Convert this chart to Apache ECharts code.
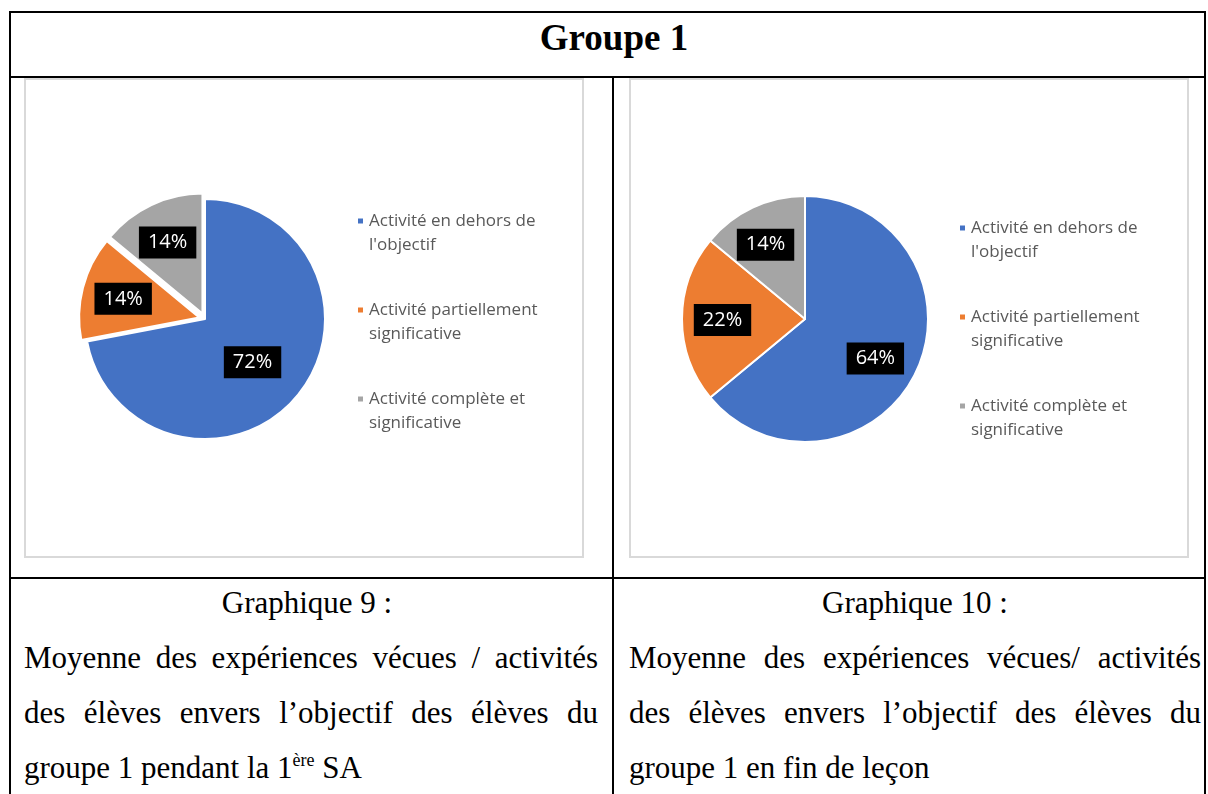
<!DOCTYPE html>
<html>
<head>
<meta charset="utf-8">
<script src="https://cdn.jsdelivr.net/npm/echarts@6/dist/echarts.min.js"></script>
<style>
  html, body { margin: 0; padding: 0; background: #fff; }
  #page { position: relative; width: 1208px; height: 794px; overflow: hidden; font-family: "Liberation Serif", "Times New Roman", serif; color: #000; }
  .ln { position: absolute; background: #000; }
  .frame { position: absolute; border: 2px solid #d9d9d9; box-sizing: border-box; }
  #title { position: absolute; left: 18px; top: 6px; width: 1192px; height: 63px; line-height: 63px; text-align: center; font-weight: bold; font-size: 37px; }
  .cap { position: absolute; top: 575px; font-size: 31px; line-height: 55px; }
  .cap div { text-align: justify; text-align-last: justify; white-space: nowrap; }
  .cap div.c { text-align: center; text-align-last: center; }
  .cap div.l { text-align: left; text-align-last: left; }
  sup { font-size: 18px; line-height: 0; vertical-align: 12px; }
  #main { position: absolute; left: 0; top: 0; width: 1208px; height: 794px; }
</style>
</head>
<body>
<div id="page">
  <div class="ln" style="left:9px;top:11px;width:1197px;height:2px"></div>
  <div class="ln" style="left:9px;top:11px;width:2px;height:783px"></div>
  <div class="ln" style="left:1204px;top:11px;width:2px;height:783px"></div>
  <div class="ln" style="left:9px;top:76px;width:1197px;height:2px"></div>
  <div class="ln" style="left:612px;top:76px;width:2px;height:718px"></div>
  <div class="ln" style="left:9px;top:577px;width:1197px;height:2px"></div>
  <div id="title">Groupe 1</div>
  <div class="frame" style="left:24px;top:78px;width:560px;height:480px"></div>
  <div class="frame" style="left:629px;top:78px;width:560px;height:480px"></div>
  <div class="cap" style="left:24px;width:574px">
    <div class="c" style="margin-right:8px">Graphique 9 :</div>
    <div>Moyenne des expériences vécues / activités</div>
    <div>des élèves envers l’objectif des élèves du</div>
    <div class="l">groupe 1 pendant la 1<sup>ère</sup> SA</div>
  </div>
  <div class="cap" style="left:629px;width:572px">
    <div class="c">Graphique 10 :</div>
    <div>Moyenne des expériences vécues/ activités</div>
    <div>des élèves envers l’objectif des élèves du</div>
    <div class="l">groupe 1 en fin de leçon</div>
  </div>
  <div id="main"></div>
</div>
<script>
var categories = ["Activité en dehors de l'objectif", 'Activité partiellement significative', 'Activité complète et significative'];
var legendLines = [["Activité en dehors de", "l'objectif"], ['Activité partiellement', 'significative'], ['Activité complète et', 'significative']];
var values9 = [72, 14, 14];
var values10 = [64, 22, 14];
var colors = ['#4472C4', '#ED7D31', '#A5A5A5'];

var labelFont = '"Open Sans", "Noto Sans", sans-serif';

function buildData(values, nudges, exploded) {
    var out = [];
    for (var i = 0; i < values.length; i++) {
        out.push({
            name: categories[i],
            value: values[i],
            selected: exploded[i],
            itemStyle: { color: colors[i] },
            label: { offset: nudges[i] },
            select: { label: { offset: nudges[i] } }
        });
    }
    return out;
}

function legendText(name) {
    var k = categories.indexOf(name);
    // blank first line so the marker sits beside the first line
    return '\n' + legendLines[k][0] + '\n' + legendLines[k][1];
}

function pieSeries(values, center, radius, nudges, exploded) {
    return {
        type: 'pie',
        center: center,
        radius: radius,
        startAngle: 90,
        clockwise: true,
        selectedMode: 'multiple',
        selectedOffset: 6,
        animation: false,
        itemStyle: { borderColor: '#fff', borderWidth: 2 },
        label: {
            position: 'inside',
            formatter: '{c}%',
            color: '#fff',
            fontFamily: labelFont,
            fontSize: 20,
            backgroundColor: '#000',
            padding: [7, 9, 5, 9]
        },
        labelLine: { show: false },
        emphasis: { disabled: true },
        select: {
            itemStyle: { borderColor: '#fff', borderWidth: 2 },
            label: { color: '#fff' }
        },
        data: buildData(values, nudges, exploded)
    };
}

function legendAt(left, top) {
    return {
        orient: 'vertical',
        left: left,
        top: top,
        padding: 0,
        itemGap: 17,
        itemWidth: 7,
        itemHeight: 7,
        icon: 'rect',
        selectedMode: false,
        formatter: legendText,
        textStyle: {
            color: '#595959',
            fontFamily: labelFont,
            fontSize: 17,
            lineHeight: 24
        },
        data: categories
    };
}

var option = {
    animation: false,
    legend: [legendAt(356, 185), legendAt(958, 192)],
    series: [
        pieSeries(values9, [205, 319], 120, [[-1, 3], [-15, -3], [-8, -14]], [false, true, true]),
        pieSeries(values10, [805, 319], 123, [[12, 12], [-18, 1], [-12, -16]], [false, false, false])
    ]
};

var myChart = echarts.init(document.getElementById('main'));
myChart.setOption(option);
</script>
</body>
</html>
